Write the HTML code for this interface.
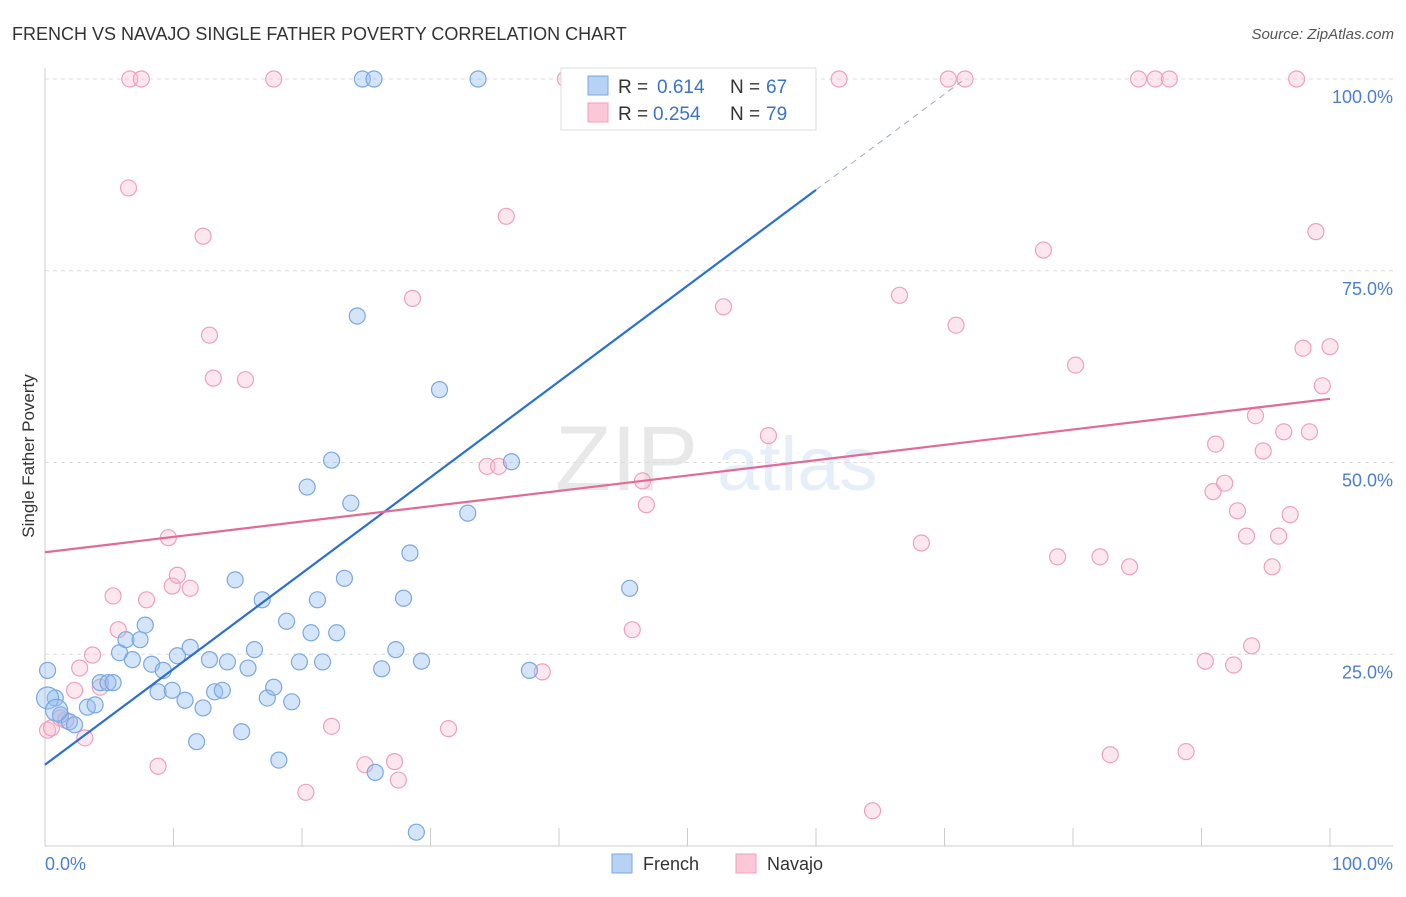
<!DOCTYPE html>
<html><head><meta charset="utf-8"><style>
body{margin:0;background:#fff;font-family:"Liberation Sans",sans-serif;}
svg text{font-family:"Liberation Sans",sans-serif;}
</style></head><body>
<svg id="chart" width="1406" height="892" xmlns="http://www.w3.org/2000/svg">
<text x="12" y="40" font-size="18" fill="#333">FRENCH VS NAVAJO SINGLE FATHER POVERTY CORRELATION CHART</text>
<text x="1394" y="39" font-size="15" fill="#555" text-anchor="end" font-style="italic">Source: ZipAtlas.com</text>
<g opacity="0.13">
<text x="555" y="490" font-size="92" font-family="Liberation Serif" fill="#555">ZIP</text>
<text x="717" y="490" font-size="76" fill="#4a7fd4">atlas</text>
</g>
<g id="grid"></g>
<g id="axes"></g>
<g id="points"></g>
<g id="lines"></g>
<text transform="translate(34,456) rotate(-90)" font-size="17" fill="#333" text-anchor="middle">Single Father Poverty</text>
<g>
<rect x="561" y="68" width="255" height="62" fill="#fff" stroke="#ddd"/>
<rect x="588" y="76" width="20" height="19" fill="#b8d2f5" stroke="#7aa8e0"/>
<rect x="588" y="103" width="20" height="19" fill="#fcc8d8" stroke="#f0a0b8"/>
<text x="618" y="93" font-size="19" fill="#333">R = </text><text x="657" y="93" font-size="19" fill="#3a72d0">0.614</text>
<text x="730" y="93" font-size="19" fill="#333">N = </text><text x="766" y="93" font-size="19" fill="#3a72d0">67</text>
<text x="618" y="120" font-size="19" fill="#333">R = </text><text x="653" y="120" font-size="19" fill="#3a72d0">0.254</text>
<text x="730" y="120" font-size="19" fill="#333">N = </text><text x="766" y="120" font-size="19" fill="#3a72d0">79</text>
</g>
<g>
<rect x="612" y="854" width="20" height="19" fill="#b8d2f5" stroke="#7aa8e0"/>
<text x="643" y="870" font-size="18" fill="#333">French</text>
<rect x="736" y="854" width="20" height="19" fill="#fcc8d8" stroke="#f0a0b8"/>
<text x="767" y="870" font-size="18" fill="#333">Navajo</text>
</g>
</svg>
<script>
const yTicks=[25,50,75,100];
const yTickLabels=["25.0%","50.0%","75.0%","100.0%"];
const frenchX=[0.2,0.8,1.2,1.9,2.3,3.3,3.9,4.3,4.9,5.3,5.8,6.3,6.8,7.4,7.8,8.3,8.8,9.2,9.9,10.3,10.9,11.3,11.8,12.3,12.8,13.2,13.8,14.2,14.8,15.3,15.8,16.3,16.9,17.3,17.8,18.2,18.8,19.2,19.8,20.4,20.7,21.2,21.6,22.3,22.7,23.3,23.8,24.3,24.7,25.6,25.7,26.2,27.3,27.9,28.4,28.9,29.3,30.7,32.9,33.7,36.3,37.7,41.4,45.5,51.5,0.2,0.9];
const frenchY=[22.9,19.3,17.1,16.2,15.8,18.1,18.4,21.3,21.3,21.3,25.2,26.9,24.3,26.9,28.8,23.7,20.1,22.9,20.3,24.8,19.0,25.9,13.6,18.0,24.3,20.1,20.3,24.0,34.7,14.9,23.2,25.6,32.1,19.3,20.7,11.2,29.3,18.8,24.0,46.8,27.8,32.1,24.0,50.3,27.8,34.9,44.7,69.1,100,100,9.6,23.1,25.6,32.3,38.2,1.8,24.1,59.5,43.4,100,50.1,22.9,100,33.6,100,19.3,17.7];
const navajoX=[0.2,0.5,1.2,1.6,2.3,2.7,3.1,3.7,4.3,5.3,5.7,6.5,6.6,7.5,7.9,8.8,9.6,9.9,10.3,11.3,12.3,12.8,13.1,15.6,17.8,20.3,22.3,24.9,27.2,27.5,28.6,31.4,34.4,35.3,35.9,38.7,40.5,45.7,46.5,46.8,52.8,56.3,61.8,64.4,66.5,68.2,70.3,70.9,71.6,77.7,78.8,80.2,82.1,82.9,84.4,85.1,86.4,87.5,88.8,90.3,90.9,91.1,91.8,92.5,92.8,93.5,93.9,94.2,94.8,95.5,96.0,96.4,96.9,97.4,97.9,98.4,98.9,99.4,100];
const navajoY=[15.1,15.4,16.7,16.4,20.3,23.2,14.1,24.9,20.7,32.6,28.2,85.8,100,100,32.1,10.4,40.2,33.9,35.3,33.6,79.5,66.6,61.0,60.8,100,7.0,15.6,10.6,11.0,8.6,71.4,15.3,49.5,49.5,82.1,22.7,100,28.2,47.6,44.5,70.3,53.5,100,4.6,71.8,39.5,100,67.9,100,77.7,37.7,62.7,37.7,11.9,36.4,100,100,100,12.3,24.1,46.2,52.4,47.3,23.6,43.7,40.4,26.1,56.1,51.5,36.4,40.4,54.0,43.2,100,64.9,54.0,80.1,60.0,65.1];
const frenchTrend=[10.6,1.249];
const navajoTrend=[38.3,0.20];
const NS="http://www.w3.org/2000/svg";
const X=v=>45+v*12.85, Y=v=>846-v*7.67;
function mk(t,a,p){const e=document.createElementNS(NS,t);for(const k in a)e.setAttribute(k,a[k]);p.appendChild(e);return e;}
const grid=document.getElementById('grid'),axes=document.getElementById('axes'),pts=document.getElementById('points'),lines=document.getElementById('lines');
yTicks.forEach((t,i)=>{
 const l=mk('line',{x1:45,x2:1393,y1:Y(t),y2:Y(t),stroke:'#ddd','stroke-dasharray':'4,4'},grid);
 
 
 const tx=mk('text',{x:1393,y:Y(t)+24,'font-size':18,fill:'#4a7fd4','text-anchor':'end'},axes);
 tx.textContent=yTickLabels[i];
 
 
});
mk('line',{x1:45,x2:45,y1:68,y2:846,stroke:'#ccc'},axes);
mk('line',{x1:45,x2:1393,y1:846,y2:846,stroke:'#ccc'},axes);
for(let i=1;i<=10;i++){const t=mk('line',{x1:X(i*10),x2:X(i*10),y1:828,y2:846,stroke:'#ccc'},axes);}
const xl0=mk('text',{x:45,y:870,'font-size':18,fill:'#4a7fd4'},axes);xl0.textContent='0.0%';


const xl1=mk('text',{x:1393,y:870,'font-size':18,fill:'#4a7fd4','text-anchor':'end'},axes);xl1.textContent='100.0%';


navajoX.forEach((x,i)=>{const c=mk('circle',{cx:X(x),cy:Y(navajoY[i]),r:8,fill:'rgba(248,185,205,0.35)',stroke:'#f0a0b8','stroke-width':1.2},pts);
 
 });
frenchX.forEach((x,i)=>{const c=mk('circle',{cx:X(x),cy:Y(frenchY[i]),r:(i>=65?11:8),fill:'rgba(150,190,240,0.4)',stroke:'#7aa8e0','stroke-width':1.2},pts);
 
 });
const fy=x=>frenchTrend[0]+frenchTrend[1]*x;
const l1=mk('line',{x1:X(0),y1:Y(fy(0)),x2:X(60),y2:Y(fy(60)),stroke:'#2a6fd6','stroke-width':2.2},lines);


const xEnd=(100-frenchTrend[0])/frenchTrend[1];
const l2=mk('line',{x1:X(60),y1:Y(fy(60)),x2:X(xEnd),y2:Y(100),stroke:'#9ab','stroke-width':1,'stroke-dasharray':'6,5'},lines);


const ny=x=>navajoTrend[0]+navajoTrend[1]*x;
const l3=mk('line',{x1:X(0),y1:Y(ny(0)),x2:X(100),y2:Y(ny(100)),stroke:'#e46a96','stroke-width':2.2},lines);


</script>
</body></html>
